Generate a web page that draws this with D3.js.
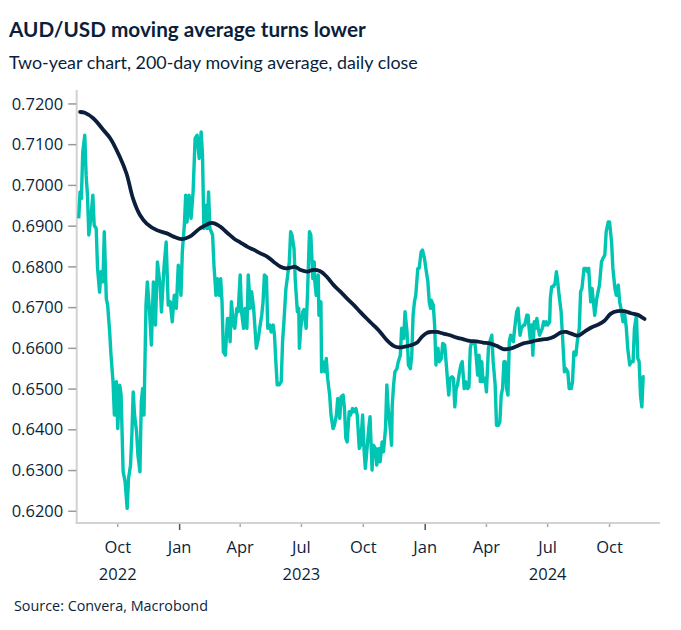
<!DOCTYPE html>
<html><head><meta charset="utf-8">
<script src="https://cdn.jsdelivr.net/npm/d3@7"></script>
<style>
html,body{margin:0;padding:0;background:#fff;}
svg{display:block;font-family:"Open Sans",sans-serif;}
</style></head><body>
<svg id="chart" width="681" height="630"></svg>
<script>
const titleText = "AUD/USD moving average turns lower";
const subtitleText = "Two-year chart, 200-day moving average, daily close";
const sourceText = "Source: Convera, Macrobond";
const yTicks = [0.62, 0.63, 0.64, 0.65, 0.66, 0.67, 0.68, 0.69, 0.70, 0.71, 0.72];
const xDomain = ["2022-08-01", "2024-12-15"];
const yDomain = [0.6170, 0.7233];
const yearLabels = ["2022", "2023", "2024"];
const yearLabelDates = ["2022-10-01", "2023-07-01", "2024-07-01"];

// AUD/USD daily close
const spot = [
["2022-08-04",0.6918],["2022-08-06",0.6983],["2022-08-08",0.6967],["2022-08-10",0.7081],["2022-08-13",0.7122],["2022-08-15",0.7024],["2022-08-17",0.6975],["2022-08-19",0.6877],["2022-08-22",0.6918],["2022-08-25",0.6975],["2022-08-27",0.6901],["2022-08-30",0.6893],
["2022-09-01",0.6795],["2022-09-04",0.6737],["2022-09-06",0.6787],["2022-09-09",0.6762],["2022-09-11",0.6885],["2022-09-14",0.6721],["2022-09-16",0.6705],["2022-09-19",0.6639],["2022-09-21",0.6582],["2022-09-24",0.6517],["2022-09-26",0.6435],["2022-09-29",0.6517],
["2022-10-01",0.6402],["2022-10-04",0.6508],["2022-10-06",0.6484],["2022-10-09",0.6296],["2022-10-12",0.6271],["2022-10-15",0.6206],["2022-10-17",0.6279],["2022-10-20",0.6312],["2022-10-22",0.6386],["2022-10-24",0.6492],["2022-10-26",0.6435],["2022-10-29",0.6394],["2022-10-31",0.6337],
["2022-11-03",0.6296],["2022-11-05",0.6467],["2022-11-07",0.6500],["2022-11-09",0.6435],["2022-11-12",0.6705],["2022-11-14",0.6762],["2022-11-17",0.6697],["2022-11-20",0.6607],["2022-11-23",0.6762],["2022-11-26",0.6656],["2022-11-29",0.6811],
["2022-12-03",0.6754],["2022-12-05",0.6688],["2022-12-09",0.6803],["2022-12-12",0.6860],["2022-12-15",0.6705],["2022-12-18",0.6713],["2022-12-21",0.6664],["2022-12-24",0.6729],["2022-12-27",0.6697],["2022-12-30",0.6803],
["2023-01-03",0.6729],["2023-01-05",0.6836],["2023-01-08",0.6901],["2023-01-10",0.6975],["2023-01-12",0.6909],["2023-01-15",0.6975],["2023-01-18",0.6918],["2023-01-21",0.6983],["2023-01-24",0.7114],["2023-01-27",0.7122],["2023-01-30",0.7065],
["2023-02-02",0.7130],["2023-02-04",0.7073],["2023-02-06",0.6893],["2023-02-08",0.6950],["2023-02-11",0.6893],["2023-02-13",0.6983],["2023-02-15",0.6893],["2023-02-19",0.6877],["2023-02-21",0.6803],["2023-02-24",0.6729],["2023-02-26",0.6770],
["2023-03-01",0.6729],["2023-03-03",0.6770],["2023-03-05",0.6713],["2023-03-07",0.6590],["2023-03-10",0.6582],["2023-03-13",0.6672],["2023-03-15",0.6672],["2023-03-17",0.6615],["2023-03-19",0.6713],["2023-03-22",0.6656],["2023-03-24",0.6648],["2023-03-27",0.6697],["2023-03-29",0.6689],
["2023-04-01",0.6779],["2023-04-03",0.6689],["2023-04-06",0.6648],["2023-04-08",0.6697],["2023-04-11",0.6648],["2023-04-13",0.6779],["2023-04-16",0.6697],["2023-04-18",0.6738],["2023-04-21",0.6697],["2023-04-23",0.6648],["2023-04-25",0.6599],["2023-04-28",0.6623],["2023-04-30",0.6648],
["2023-05-03",0.6680],["2023-05-05",0.6713],["2023-05-07",0.6779],["2023-05-10",0.6774],["2023-05-12",0.6648],["2023-05-15",0.6656],["2023-05-17",0.6639],["2023-05-20",0.6656],["2023-05-22",0.6631],["2023-05-24",0.6566],["2023-05-26",0.6509],["2023-05-29",0.6509],
["2023-06-01",0.6517],["2023-06-03",0.6615],["2023-06-05",0.6664],["2023-06-08",0.6746],["2023-06-10",0.6770],["2023-06-13",0.6811],["2023-06-15",0.6885],["2023-06-17",0.6877],["2023-06-20",0.6844],["2023-06-22",0.6762],["2023-06-25",0.6689],["2023-06-27",0.6697],["2023-06-28",0.6599],["2023-06-30",0.6648],
["2023-07-03",0.6689],["2023-07-05",0.6694],["2023-07-08",0.6648],["2023-07-10",0.6729],["2023-07-13",0.6885],["2023-07-15",0.6877],["2023-07-18",0.6770],["2023-07-20",0.6811],["2023-07-21",0.6762],["2023-07-23",0.6729],["2023-07-26",0.6779],["2023-07-27",0.6680],["2023-07-30",0.6713],["2023-07-31",0.6541],
["2023-08-02",0.6566],["2023-08-05",0.6541],["2023-08-07",0.6574],["2023-08-09",0.6525],["2023-08-12",0.6484],["2023-08-14",0.6435],["2023-08-17",0.6402],["2023-08-19",0.6410],["2023-08-22",0.6435],["2023-08-24",0.6476],["2023-08-27",0.6427],["2023-08-29",0.6480],
["2023-09-01",0.6484],["2023-09-03",0.6451],["2023-09-05",0.6378],["2023-09-07",0.6369],["2023-09-10",0.6443],["2023-09-12",0.6435],["2023-09-15",0.6451],["2023-09-17",0.6443],["2023-09-20",0.6451],["2023-09-22",0.6435],["2023-09-25",0.6353],["2023-09-27",0.6361],["2023-09-30",0.6435],
["2023-10-02",0.6353],["2023-10-04",0.6304],["2023-10-07",0.6361],["2023-10-09",0.6402],["2023-10-11",0.6431],["2023-10-14",0.6300],["2023-10-16",0.6361],["2023-10-19",0.6353],["2023-10-21",0.6312],["2023-10-24",0.6353],["2023-10-26",0.6320],["2023-10-29",0.6369],["2023-10-31",0.6345],
["2023-11-03",0.6402],["2023-11-05",0.6509],["2023-11-07",0.6451],["2023-11-10",0.6402],["2023-11-12",0.6361],["2023-11-13",0.6459],["2023-11-15",0.6509],["2023-11-17",0.6541],["2023-11-20",0.6549],["2023-11-22",0.6566],["2023-11-25",0.6582],["2023-11-27",0.6648],["2023-11-30",0.6623],
["2023-12-02",0.6689],["2023-12-05",0.6639],["2023-12-07",0.6558],["2023-12-10",0.6549],["2023-12-12",0.6582],["2023-12-14",0.6680],["2023-12-16",0.6713],["2023-12-18",0.6729],["2023-12-21",0.6795],["2023-12-23",0.6795],["2023-12-26",0.6836],["2023-12-28",0.6840],["2023-12-31",0.6819],
["2024-01-02",0.6795],["2024-01-05",0.6762],["2024-01-07",0.6713],["2024-01-09",0.6697],["2024-01-10",0.6717],["2024-01-13",0.6705],["2024-01-15",0.6656],["2024-01-17",0.6558],["2024-01-18",0.6582],["2024-01-20",0.6599],["2024-01-22",0.6566],["2024-01-25",0.6574],["2024-01-27",0.6611],["2024-01-30",0.6607],
["2024-02-01",0.6566],["2024-02-05",0.6484],["2024-02-07",0.6525],["2024-02-10",0.6529],["2024-02-12",0.6525],["2024-02-14",0.6455],["2024-02-16",0.6500],["2024-02-18",0.6509],["2024-02-21",0.6541],["2024-02-23",0.6558],["2024-02-25",0.6566],["2024-02-28",0.6500],
["2024-03-01",0.6517],["2024-03-04",0.6500],["2024-03-06",0.6504],["2024-03-08",0.6599],["2024-03-10",0.6615],["2024-03-12",0.6611],["2024-03-15",0.6611],["2024-03-17",0.6574],["2024-03-19",0.6533],["2024-03-21",0.6582],["2024-03-23",0.6517],["2024-03-25",0.6566],["2024-03-27",0.6517],["2024-03-30",0.6525],
["2024-04-01",0.6492],["2024-04-04",0.6599],["2024-04-06",0.6615],["2024-04-09",0.6631],["2024-04-11",0.6566],["2024-04-14",0.6509],["2024-04-16",0.6410],["2024-04-19",0.6410],["2024-04-21",0.6419],["2024-04-23",0.6484],["2024-04-25",0.6500],["2024-04-27",0.6566],["2024-04-29",0.6566],
["2024-05-01",0.6500],["2024-05-03",0.6484],["2024-05-05",0.6615],["2024-05-07",0.6631],["2024-05-09",0.6619],["2024-05-11",0.6615],["2024-05-13",0.6648],["2024-05-16",0.6689],["2024-05-18",0.6697],["2024-05-21",0.6631],["2024-05-23",0.6648],["2024-05-26",0.6656],["2024-05-28",0.6656],["2024-05-31",0.6680],
["2024-06-02",0.6680],["2024-06-03",0.6656],["2024-06-05",0.6623],["2024-06-07",0.6656],["2024-06-09",0.6582],["2024-06-11",0.6664],["2024-06-13",0.6648],["2024-06-15",0.6672],["2024-06-17",0.6648],["2024-06-19",0.6631],["2024-06-21",0.6639],["2024-06-23",0.6648],["2024-06-25",0.6664],["2024-06-27",0.6656],["2024-06-29",0.6664],
["2024-07-01",0.6656],["2024-07-04",0.6664],["2024-07-05",0.6721],["2024-07-07",0.6750],["2024-07-09",0.6750],["2024-07-12",0.6758],["2024-07-14",0.6787],["2024-07-16",0.6762],["2024-07-18",0.6729],["2024-07-21",0.6689],["2024-07-23",0.6631],["2024-07-26",0.6541],["2024-07-28",0.6549],["2024-07-31",0.6541],
["2024-08-02",0.6500],["2024-08-05",0.6500],["2024-08-07",0.6517],["2024-08-09",0.6590],["2024-08-12",0.6582],["2024-08-14",0.6615],["2024-08-17",0.6648],["2024-08-19",0.6738],["2024-08-21",0.6746],["2024-08-24",0.6795],["2024-08-27",0.6795],["2024-08-29",0.6787],["2024-08-31",0.6795],
["2024-09-03",0.6713],["2024-09-05",0.6746],["2024-09-07",0.6713],["2024-09-09",0.6680],["2024-09-12",0.6721],["2024-09-14",0.6738],["2024-09-16",0.6754],["2024-09-19",0.6811],["2024-09-21",0.6819],["2024-09-24",0.6828],["2024-09-26",0.6885],["2024-09-29",0.6909],
["2024-10-01",0.6909],["2024-10-04",0.6860],["2024-10-06",0.6795],["2024-10-09",0.6746],["2024-10-11",0.6729],["2024-10-14",0.6754],["2024-10-16",0.6713],["2024-10-18",0.6697],["2024-10-21",0.6664],["2024-10-23",0.6689],["2024-10-26",0.6648],["2024-10-28",0.6599],["2024-10-31",0.6558],
["2024-11-02",0.6566],["2024-11-05",0.6566],["2024-11-07",0.6648],["2024-11-10",0.6680],["2024-11-12",0.6574],["2024-11-14",0.6566],["2024-11-16",0.6484],["2024-11-18",0.6455],["2024-11-20",0.6529],["2024-11-22",0.6529]
];

// 200-day moving average
const movingAvg = [
["2022-08-06",0.7179],["2022-08-13",0.7177],["2022-08-26",0.7163],["2022-09-10",0.7134],["2022-09-20",0.7114],["2022-10-04",0.7069],["2022-10-14",0.7028],["2022-10-24",0.6965],["2022-11-03",0.6926],["2022-11-13",0.6905],["2022-11-28",0.6889],["2022-12-13",0.6881],["2022-12-23",0.6873],
["2023-01-04",0.6867],["2023-01-16",0.6873],["2023-01-31",0.6893],["2023-02-18",0.6907],["2023-03-02",0.6898],["2023-03-13",0.6882],["2023-03-23",0.6868],["2023-04-02",0.6858],["2023-04-12",0.6848],["2023-04-21",0.6841],["2023-05-01",0.6832],["2023-05-11",0.6824],["2023-05-21",0.6811],["2023-05-31",0.6799],["2023-06-08",0.6795],["2023-06-15",0.6797],["2023-06-22",0.6799],["2023-06-30",0.6791],["2023-07-10",0.6787],["2023-07-17",0.6791],["2023-07-29",0.6788],["2023-08-08",0.6774],["2023-08-18",0.6754],["2023-08-28",0.6738],["2023-09-07",0.6721],["2023-09-17",0.6705],["2023-09-26",0.6689],["2023-10-06",0.6672],["2023-10-16",0.6656],["2023-10-26",0.6639],["2023-11-05",0.6619],["2023-11-15",0.6605],["2023-11-23",0.6601],["2023-12-02",0.6603],["2023-12-12",0.6607],["2023-12-20",0.6613],["2023-12-27",0.6627],
["2024-01-04",0.6637],["2024-01-10",0.6639],["2024-01-18",0.6639],["2024-01-28",0.6635],["2024-02-07",0.6631],["2024-02-17",0.6625],["2024-02-27",0.6621],["2024-03-07",0.6617],["2024-03-17",0.6616],["2024-03-27",0.6613],["2024-04-06",0.6611],["2024-04-16",0.6605],["2024-04-26",0.6597],["2024-05-06",0.6598],["2024-05-16",0.6604],["2024-05-26",0.6611],["2024-06-04",0.6614],["2024-06-14",0.6618],["2024-06-24",0.6621],["2024-07-01",0.6622],["2024-07-11",0.6628],["2024-07-21",0.6638],["2024-07-28",0.6639],["2024-08-05",0.6635],["2024-08-15",0.6630],["2024-08-25",0.6640],["2024-09-04",0.6650],["2024-09-14",0.6657],["2024-09-23",0.6666],["2024-10-03",0.6684],["2024-10-13",0.6690],["2024-10-23",0.6690],["2024-11-02",0.6685],["2024-11-12",0.6681],["2024-11-19",0.6674],["2024-11-22",0.6671]
];

const W = 681, H = 630;
const plot = {left: 76.7, right: 660, top: 90, bottom: 523};
const navy = "#0b1f3c";
const teal = "#00c5b3";
const parse = d3.timeParse("%Y-%m-%d");

const svg = d3.select("#chart");
svg.append("rect").attr("width", W).attr("height", H).attr("fill", "#fff");

const x = d3.scaleTime().domain(xDomain.map(parse)).range([plot.left, plot.right]);
const y = d3.scaleLinear().domain(yDomain).range([plot.bottom, plot.top]);

function fit(sel, target) {
  const w = sel.node().getComputedTextLength();
  const fs = parseFloat(sel.attr("font-size"));
  sel.attr("font-size", (fs * target / w).toFixed(2));
}

// Titles
const t1 = svg.append("text").attr("x", 9).attr("y", 37).attr("font-size", 22)
  .attr("font-family", "Lato, 'Open Sans', sans-serif")
  .attr("font-weight", 700).attr("fill", navy).text(titleText);
fit(t1, 357);
const t2 = svg.append("text").attr("x", 9).attr("y", 69).attr("font-size", 19)
  .attr("font-family", "Lato, 'Open Sans', sans-serif")
  .attr("fill", navy).text(subtitleText);
fit(t2, 409);

// Axis lines
svg.append("line").attr("x1", plot.left).attr("x2", plot.left)
  .attr("y1", plot.top).attr("y2", plot.bottom + 1)
  .attr("stroke", "#d2d2d2").attr("stroke-width", 2);
svg.append("line").attr("x1", plot.left - 1).attr("x2", plot.right)
  .attr("y1", plot.bottom).attr("y2", plot.bottom)
  .attr("stroke", "#d2d2d2").attr("stroke-width", 2);

// Y axis ticks + labels
const yAxis = d3.axisLeft(y).tickValues(yTicks).tickSize(8).tickPadding(5)
  .tickFormat(d3.format(".4f"));
const gy = svg.append("g").attr("transform", `translate(${plot.left - 0.5},0)`).call(yAxis);
gy.select(".domain").remove();
gy.selectAll(".tick line").attr("stroke", "#9a9a9a").attr("stroke-width", 1.5);
gy.selectAll(".tick text").attr("fill", navy).attr("font-size", 16.5)
  .attr("font-family", "'Open Sans', sans-serif").attr("dy", "0.34em");

// X axis ticks
const qTicks = x.ticks(d3.timeMonth.every(3));
const gx = svg.append("g");
gx.selectAll("line.tk").data(qTicks).join("line").attr("class", "tk")
  .attr("x1", d => x(d)).attr("x2", d => x(d))
  .attr("y1", plot.bottom + 1)
  .attr("y2", d => plot.bottom + (d.getMonth() === 0 ? 7 : 4))
  .attr("stroke", d => d.getMonth() === 0 ? "#555" : "#a8a8a8")
  .attr("stroke-width", 1.5);
gx.selectAll("text.mo").data(qTicks).join("text").attr("class", "mo")
  .attr("x", d => x(d)).attr("y", 553).attr("text-anchor", "middle")
  .attr("font-size", 16.5).attr("fill", navy).text(d3.timeFormat("%b"));
gx.selectAll("text.yr").data(yearLabels).join("text").attr("class", "yr")
  .attr("x", (d, i) => x(parse(yearLabelDates[i]))).attr("y", 580)
  .attr("text-anchor", "middle").attr("font-size", 16.5).attr("fill", navy).text(d => d);

// Lines
const line = d3.line().x(d => x(parse(d[0]))).y(d => y(d[1]));
svg.append("path").datum(spot).attr("d", line)
  .attr("fill", "none").attr("stroke", teal).attr("stroke-width", 3.4)
  .attr("stroke-linejoin", "round");
const maLine = d3.line().x(d => x(parse(d[0]))).y(d => y(d[1])).curve(d3.curveCatmullRom.alpha(0.5));
svg.append("path").datum(movingAvg).attr("d", maLine)
  .attr("fill", "none").attr("stroke", navy).attr("stroke-width", 3.8)
  .attr("stroke-linecap", "round");

// Source
const src = svg.append("text").attr("x", 14).attr("y", 611).attr("font-size", 13)
  .attr("fill", navy).text(sourceText);
fit(src, 194);
</script>
</body></html>
